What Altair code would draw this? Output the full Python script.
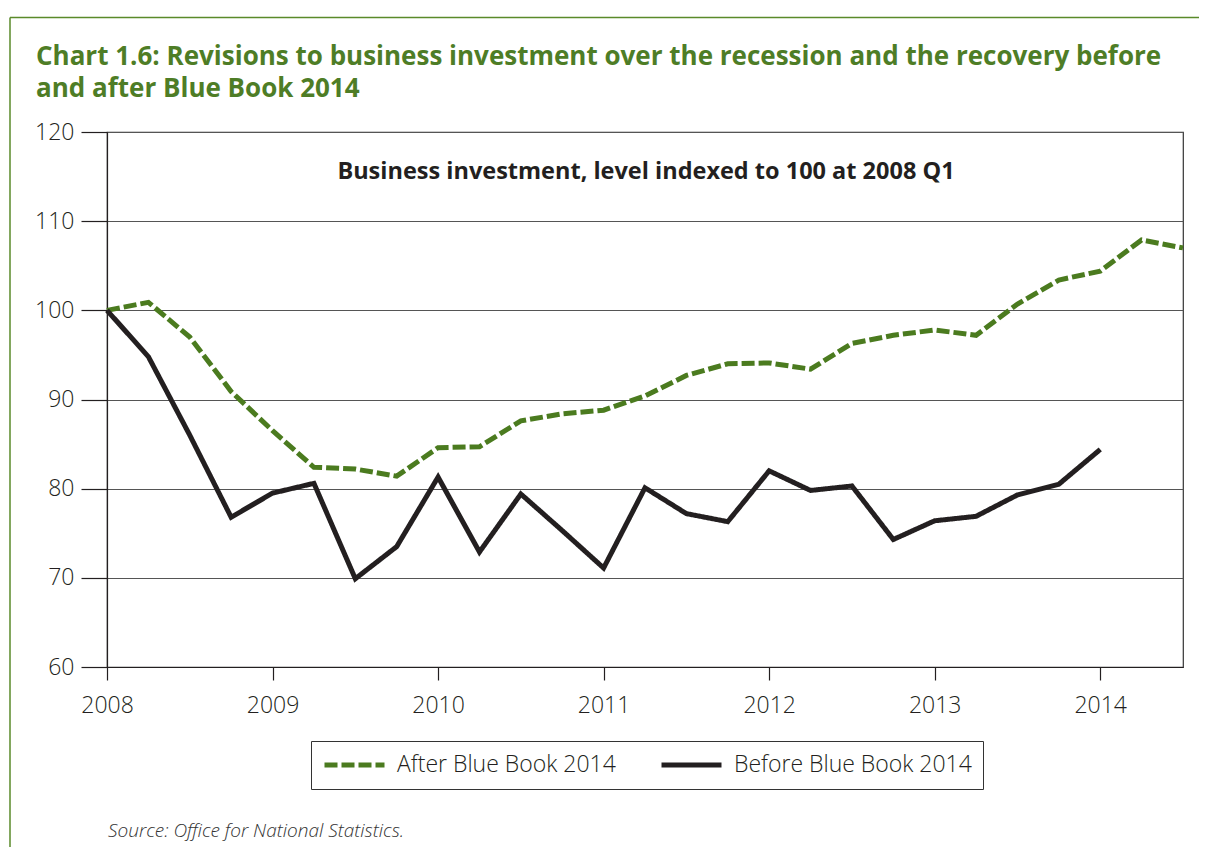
import altair as alt
import pandas as pd

quarters = [
    "2008 Q1", "2008 Q2", "2008 Q3", "2008 Q4",
    "2009 Q1", "2009 Q2", "2009 Q3", "2009 Q4",
    "2010 Q1", "2010 Q2", "2010 Q3", "2010 Q4",
    "2011 Q1", "2011 Q2", "2011 Q3", "2011 Q4",
    "2012 Q1", "2012 Q2", "2012 Q3", "2012 Q4",
    "2013 Q1", "2013 Q2", "2013 Q3", "2013 Q4",
    "2014 Q1", "2014 Q2", "2014 Q3",
]

after_bb = [
    100.0, 100.9, 97.0, 90.9,
    86.5, 82.4, 82.2, 81.4,
    84.6, 84.7, 87.6, 88.4,
    88.8, 90.4, 92.7, 94.0,
    94.1, 93.4, 96.3, 97.2,
    97.8, 97.2, 100.7, 103.4,
    104.4, 107.9, 107.0,
]

before_bb = [
    100.0, 94.8, 86.0, 76.8,
    79.5, 80.6, 69.9, 73.5,
    81.3, 72.9, 79.4, 75.3,
    71.1, 80.1, 77.2, 76.3,
    82.0, 79.8, 80.3, 74.3,
    76.4, 76.9, 79.3, 80.5,
    84.4,
]

series_names = ["After Blue Book 2014", "Before Blue Book 2014"]
x_ticks = [2008, 2009, 2010, 2011, 2012, 2013, 2014]
y_ticks = [60, 70, 80, 90, 100, 110, 120]

title_line1 = "Chart 1.6: Revisions to business investment over the recession and the recovery before"
title_line2 = "and after Blue Book 2014"
inner_title = "Business investment, level indexed to 100 at 2008 Q1"
source_text = "Source: Office for National Statistics."

GREEN = "#4b7b1f"
TITLE_GREEN = "#4e7d26"
INK = "#231f20"
FONT = "Open Sans"


def qpos(label):
    y, q = label.split(" Q")
    return int(y) + (int(q) - 1) / 4.0


rows = []
for name, vals in zip(series_names, [after_bb, before_bb]):
    for lab, v in zip(quarters, vals):
        rows.append({"quarter": lab, "t": qpos(lab), "value": v, "series": name})
df = pd.DataFrame(rows)

one = pd.DataFrame({"k": [0]})

W, H = 1076, 535

legend_cfg = dict(
    title=None, orient="none", legendX=204, legendY=609, direction="horizontal",
    strokeColor="#333333", padding=11, symbolType="stroke", symbolSize=3600,
    symbolStrokeWidth=5, clipHeight=26, labelFontSize=23, labelFont=FONT,
    labelFontWeight=300, labelLimit=400,
    labelColor=INK, labelOffset=10, columnPadding=43, cornerRadius=0,
)

lines = alt.Chart(df).mark_line(strokeWidth=5, strokeCap="butt").encode(
    x=alt.X(
        "t:Q",
        scale=alt.Scale(domain=[2008, 2014.5], nice=False, zero=False),
        axis=alt.Axis(
            values=x_ticks, format="d", title=None, grid=False,
            tickSize=13, labelPadding=14, labelFontSize=23, labelFont=FONT,
            labelFontWeight=300,
            labelColor=INK, domainColor=INK, tickColor=INK, domainWidth=1.2, tickWidth=1.2,
            labelFlush=False,
        ),
    ),
    y=alt.Y(
        "value:Q",
        scale=alt.Scale(domain=[60, 120], nice=False, zero=False),
        axis=alt.Axis(
            values=y_ticks, title=None, grid=True, gridColor="#555555", gridWidth=1,
            tickSize=26, labelPadding=7, labelFontSize=23, labelFont=FONT,
            labelFontWeight=300,
            labelColor=INK, domainColor=INK, tickColor=INK, domainWidth=1.2, tickWidth=1.2,
        ),
    ),
    color=alt.Color(
        "series:N",
        scale=alt.Scale(domain=series_names, range=[GREEN, INK]),
        legend=alt.Legend(**legend_cfg),
    ),
    strokeDash=alt.StrokeDash(
        "series:N",
        scale=alt.Scale(domain=series_names, range=[[13, 4], [1, 0]]),
        legend=alt.Legend(**legend_cfg),
    ),
    order="t:Q",
)

title_mark1 = alt.Chart(one).mark_text(
    text=title_line1, align="left", baseline="alphabetic", font=FONT,
    fontSize=26, fontWeight="bold", color=TITLE_GREEN,
).encode(x=alt.value(-71), y=alt.value(-67))

title_mark2 = alt.Chart(one).mark_text(
    text=title_line2, align="left", baseline="alphabetic", font=FONT,
    fontSize=26, fontWeight="bold", color=TITLE_GREEN,
).encode(x=alt.value(-71), y=alt.value(-35))

inner_mark = alt.Chart(one).mark_text(
    text=inner_title, align="center", baseline="middle", font=FONT,
    fontSize=23.5, fontWeight="bold", color=INK,
).encode(x=alt.value(W / 2 + 1), y=alt.value(40))

source_mark = alt.Chart(one).mark_text(
    text=source_text, align="left", baseline="alphabetic", font=FONT,
    fontSize=19, fontStyle="italic", fontWeight=300, color="#333333",
).encode(x=alt.value(1), y=alt.value(705))

frame_top = alt.Chart(one).mark_rule(color="#5a8a2a", strokeWidth=1.5).encode(
    x=alt.value(-97), x2=alt.value(1100), y=alt.value(-114.5)
)
frame_left = alt.Chart(one).mark_rule(color="#5a8a2a", strokeWidth=1.5).encode(
    x=alt.value(-97), y=alt.value(-114.5), y2=alt.value(740)
)

chart = alt.layer(
    lines, title_mark1, title_mark2, inner_mark, source_mark, frame_top, frame_left
).resolve_legend(color="shared", strokeDash="shared").properties(
    width=W, height=H,
    autosize=alt.AutoSizeParams(type="none"),
    padding={"left": 99, "top": 124, "right": 16, "bottom": 180},
    background="white",
).configure_view(stroke="#333333", strokeWidth=1.2)

chart.save("out.html", embed_options={"renderer": "svg", "actions": False})
